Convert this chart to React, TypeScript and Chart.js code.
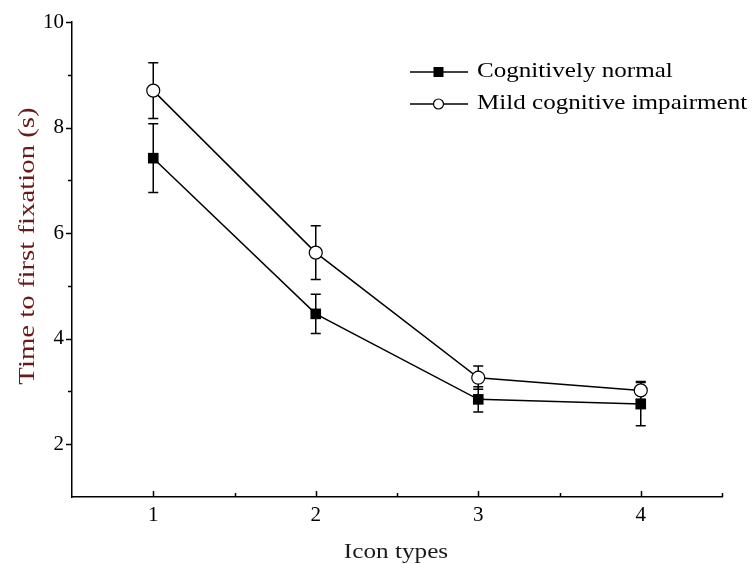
import React, { useEffect, useRef } from 'react';
import { Chart, registerables } from 'chart.js';

Chart.register(...registerables);

// ---- data ----
const iconTypes = [1, 2, 3, 4];
const normalMeans = [7.42, 4.47, 2.85, 2.76];
const normalErrors = [0.65, 0.37, 0.24, 0.41];
const mciMeans = [8.7, 5.63, 3.26, 3.02];
const mciErrors = [0.53, 0.51, 0.22, 0.17];
const seriesLabels = ['Cognitively normal', 'Mild cognitive impairment'];
const xTickValues = [1, 2, 3, 4];
const xMinorTickValues = [1.5, 2.5, 3.5, 4.5];
const yTickValues = [2, 4, 6, 8, 10];
const yMinorTickValues = [3, 5, 7, 9];
const xTitle = 'Icon types';
const yTitle = 'Time to first fixation (s)';

const SERIF = "'Liberation Serif', 'Times New Roman', serif";

function stretchedText(
  ctx: CanvasRenderingContext2D,
  text: string,
  x: number,
  y: number,
  size: number,
  scaleX: number,
  align: CanvasTextAlign,
  color: string,
  rotate = 0
) {
  ctx.save();
  ctx.translate(x, y);
  if (rotate) ctx.rotate(rotate);
  ctx.scale(scaleX, 1);
  ctx.font = `${size}px ${SERIF}`;
  ctx.fillStyle = color;
  ctx.textAlign = align;
  ctx.textBaseline = 'alphabetic';
  ctx.fillText(text, 0, 0);
  ctx.restore();
}

const whiteBg = {
  id: 'whiteBg',
  beforeDraw(chart: any) {
    const { ctx, width, height } = chart;
    ctx.save();
    ctx.fillStyle = '#fff';
    ctx.fillRect(0, 0, width, height);
    ctx.restore();
  },
};

const errorBars = {
  id: 'errorBars',
  beforeDatasetsDraw(chart: any) {
    const { ctx } = chart;
    const xs = chart.scales.x;
    const ys = chart.scales.y;
    const sets = [
      { means: normalMeans, errs: normalErrors },
      { means: mciMeans, errs: mciErrors },
    ];
    ctx.save();
    ctx.strokeStyle = '#000';
    ctx.lineWidth = 1.5;
    sets.forEach((s) => {
      iconTypes.forEach((xv, i) => {
        const px = xs.getPixelForValue(xv);
        const top = ys.getPixelForValue(s.means[i] + s.errs[i]);
        const bot = ys.getPixelForValue(s.means[i] - s.errs[i]);
        ctx.beginPath();
        ctx.moveTo(px, top);
        ctx.lineTo(px, bot);
        ctx.moveTo(px - 5, top);
        ctx.lineTo(px + 5, top);
        ctx.moveTo(px - 5, bot);
        ctx.lineTo(px + 5, bot);
        ctx.stroke();
      });
    });
    ctx.restore();
  },
};

const axisDecor = {
  id: 'axisDecor',
  afterDraw(chart: any) {
    const { ctx, chartArea } = chart;
    const xs = chart.scales.x;
    const ys = chart.scales.y;
    ctx.save();
    ctx.strokeStyle = '#000';
    ctx.lineWidth = 1.5;
    ctx.beginPath();
    // x ticks pointing inward (up)
    xTickValues.forEach((v) => {
      const px = Math.round(xs.getPixelForValue(v)) + 0.5;
      ctx.moveTo(px, chartArea.bottom);
      ctx.lineTo(px, chartArea.bottom - 6);
    });
    xMinorTickValues.forEach((v) => {
      const px = Math.round(xs.getPixelForValue(v)) + 0.5;
      ctx.moveTo(px, chartArea.bottom);
      ctx.lineTo(px, chartArea.bottom - 4);
    });
    // y ticks pointing outward (left)
    yTickValues.forEach((v) => {
      const py = Math.round(ys.getPixelForValue(v)) + 0.5;
      ctx.moveTo(chartArea.left, py);
      ctx.lineTo(chartArea.left - 6, py);
    });
    yMinorTickValues.forEach((v) => {
      const py = Math.round(ys.getPixelForValue(v)) + 0.5;
      ctx.moveTo(chartArea.left, py);
      ctx.lineTo(chartArea.left - 4, py);
    });
    ctx.stroke();
    ctx.restore();

    // axis titles
    stretchedText(ctx, xTitle, (chartArea.left + chartArea.right) / 2 - 1, 558, 21, 1.2, 'center', '#1a1a1a');
    stretchedText(ctx, yTitle, 34, 246, 24, 1.2, 'center', '#6b1a1a', -Math.PI / 2);

    // legend
    const rows = [
      { y: 72, label: seriesLabels[0], filled: true },
      { y: 104, label: seriesLabels[1], filled: false },
    ];
    rows.forEach((r) => {
      ctx.save();
      ctx.strokeStyle = '#000';
      ctx.lineWidth = 1.5;
      ctx.beginPath();
      ctx.moveTo(410, r.y);
      ctx.lineTo(468, r.y);
      ctx.stroke();
      if (r.filled) {
        ctx.fillStyle = '#000';
        ctx.fillRect(433.5, r.y - 5, 10, 10);
      } else {
        ctx.beginPath();
        ctx.arc(438.5, r.y, 5, 0, Math.PI * 2);
        ctx.fillStyle = '#fff';
        ctx.fill();
        ctx.lineWidth = 1.2;
        ctx.stroke();
      }
      ctx.restore();
      stretchedText(ctx, r.label, 477, r.y + 5, 22, 1.14, 'left', '#000');
    });
  },
};

export default function App() {
  const ref = useRef<HTMLCanvasElement | null>(null);

  useEffect(() => {
    if (!ref.current) return;
    const chart = new Chart(ref.current, {
      type: 'line',
      data: {
        datasets: [
          {
            label: seriesLabels[0],
            data: iconTypes.map((x, i) => ({ x, y: normalMeans[i] })),
            borderColor: '#000',
            borderWidth: 1.5,
            pointStyle: 'rect',
            pointRadius: 7.5,
            pointBackgroundColor: '#000',
            pointBorderColor: '#000',
            pointBorderWidth: 0,
            tension: 0,
          },
          {
            label: seriesLabels[1],
            data: iconTypes.map((x, i) => ({ x, y: mciMeans[i] })),
            borderColor: '#000',
            borderWidth: 1.5,
            pointStyle: 'circle',
            pointRadius: 6.5,
            pointBackgroundColor: '#fff',
            pointBorderColor: '#000',
            pointBorderWidth: 1.2,
            tension: 0,
          },
        ],
      },
      options: {
        responsive: false,
        animation: false,
        events: [],
        layout: { padding: { left: 0, top: 22, right: 33, bottom: 0 } },
        plugins: {
          legend: { display: false },
          tooltip: { enabled: false },
          title: { display: false },
        },
        scales: {
          x: {
            type: 'linear',
            min: 0.5,
            max: 4.5,
            grid: { display: false, drawTicks: false },
            border: { display: true, color: '#000', width: 1.5 },
            afterBuildTicks: (s: any) => {
              s.ticks = xTickValues.map((v) => ({ value: v }));
            },
            afterFit: (s: any) => {
              s.height = 67;
            },
            ticks: {
              autoSkip: false,
              maxRotation: 0,
              padding: 6,
              color: '#000',
              font: { family: SERIF, size: 21 },
              callback: (v: any) => String(v),
            },
          },
          y: {
            type: 'linear',
            min: 1,
            max: 10,
            grid: { display: false, drawTicks: false },
            border: { display: true, color: '#000', width: 1.5 },
            afterBuildTicks: (s: any) => {
              s.ticks = yTickValues.map((v) => ({ value: v }));
            },
            afterFit: (s: any) => {
              s.width = 72;
            },
            ticks: {
              autoSkip: false,
              padding: 8,
              color: '#000',
              font: { family: SERIF, size: 21 },
              callback: (v: any) => String(v),
            },
          },
        },
      },
      plugins: [whiteBg, errorBars, axisDecor],
    });
    return () => chart.destroy();
  }, []);

  return (
    <div style={{ position: 'absolute', left: 0, top: 0, width: 755, height: 564, background: '#fff' }}>
      <canvas ref={ref} width={755} height={564} />
    </div>
  );
}
